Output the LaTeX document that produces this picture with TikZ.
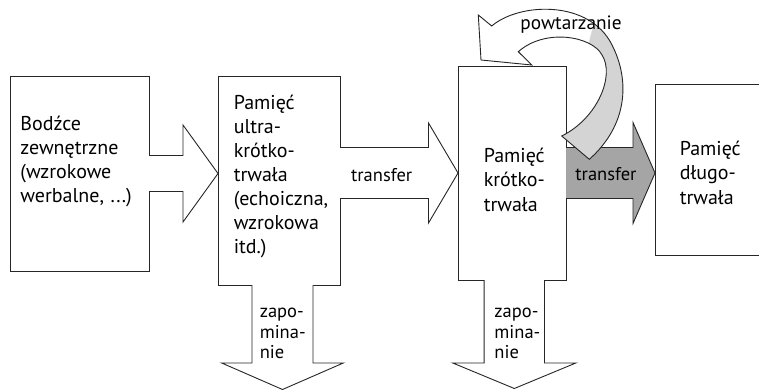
\documentclass[tikz,border=0pt]{standalone}
\usepackage{fontspec}
\setmainfont{PT Sans}
\usepackage{tikz}
\usetikzlibrary{positioning, calc}

\definecolor{szaryciemny}{RGB}{165,165,165}
\definecolor{szaryjasny}{RGB}{212,212,212}

% strzalka blokowa: styl, poczatek, grot, pol trzonu, pol grotu, dlugosc grotu
\newcommand{\strzalkaPoz}[6]{%
  \draw[#1] ($(#2)+(0,-#4)$) -- ($(#3)+(-#6,-#4)$) -- ($(#3)+(-#6,-#5)$) -- (#3)
    -- ($(#3)+(-#6,#5)$) -- ($(#3)+(-#6,#4)$) -- ($(#2)+(0,#4)$);}
\newcommand{\strzalkaPion}[6]{%
  \draw[#1] ($(#2)+(-#4,0)$) -- ($(#3)+(-#4,-#6)$) -- ($(#3)+(-#5,-#6)$) -- (#3)
    -- ($(#3)+(#5,-#6)$) -- ($(#3)+(#4,-#6)$) -- ($(#2)+(#4,0)$);}
\newcommand{\sciezkaPetli}{(491.7,26) .. controls (520,2) and (590,0) .. (612,45)
  .. controls (630,80) and (628,125) .. (589.3,159.3) -- (561.7,136)
  .. controls (598,118) and (615,75) .. (602,55) .. controls (592,36) and (545,28) .. (518.3,51.7)
  -- (531.7,65) -- (481,60) -- (478.3,15) -- cycle}

\begin{document}
\begin{tikzpicture}[x=1pt, y=-1pt, line width=0.9pt, draw=black!85,
    blok/.style={draw, rectangle, outer sep=0pt, anchor=north west},
    opis/.style={anchor=base west, inner sep=0pt, align=left, text width=130pt, font=\fontsize{20}{24}\selectfont},
    napis/.style={anchor=base west, inner sep=0pt, align=left, text width=70pt, font=\fontsize{18.5}{20.5}\selectfont}]
    \useasboundingbox (0,0) rectangle (759,390);

    \node (bodzce) [blok, minimum width=139pt, minimum height=195pt] at (10,76) {};
    \node (ultra) [blok, minimum width=122pt, minimum height=209pt] at (218,76) {};
    \node (krotko) [blok, minimum width=108pt, minimum height=214pt] at (458,66) {};
    \node (dlugo) [blok, minimum width=120pt, minimum height=171pt] at (655,84) {};

    \coordinate (koniec1) at (282.5,389.5);
    \coordinate (koniec2) at (514.3,388.5);

    % strzalki
    \strzalkaPoz{fill=white}{bodzce.east}{bodzce.east -| ultra.west}{18}{48.5}{35}
    \strzalkaPoz{fill=white}{krotko.west -| ultra.east}{krotko.west}{25.5}{50}{29.5}
    \strzalkaPoz{fill=szaryciemny}{krotko.east}{krotko.east -| dlugo.west}{25.5}{50.5}{22}
    \strzalkaPion{fill=white}{[xshift=3.5pt]ultra.south}{koniec1}{30.5}{60.8}{26.5}
    \strzalkaPion{fill=white}{[xshift=2.3pt]krotko.south}{koniec2}{30.2}{61.5}{25.5}

    % powtarzanie
    \fill[szaryjasny] \sciezkaPetli;
    \begin{scope}
        \clip \sciezkaPetli;
        \fill[white] (470,0) -- (600,0) -- (588,45) -- (545,80) -- (470,80) -- cycle;
    \end{scope}
    \draw \sciezkaPetli;

    \node (bodzceT) [opis] at ([shift={(10,54.5)}]bodzce.north west) {Bodźce\\zewnętrzne\\(wzrokowe\\werbalne, ...)};
    \node (ultraT) [opis] at ([shift={(15.3,33.3)}]ultra.north west) {Pamięć\\ultra-\\krótko-\\trwała\\(echoiczna,\\wzrokowa\\itd.)};
    \node (krotkoT) [opis] at ([shift={(25.3,97)}]krotko.north west) {Pamięć\\krótko-\\trwała};
    \node (dlugoT) [opis] at ([shift={(24.3,72)}]dlugo.north west) {Pamięć\\długo-\\trwała};

    \node (transfer1) [napis] at (350.7,181) {transfer};
    \node (transfer2) [napis] at (575,180.5) {transfer};
    \node (zapom1) [napis] at (259.3,317.5) {zapo-\\mina-\\nie};
    \node (zapom2) [napis] at (494,317.5) {zapo-\\mina-\\nie};
    \node (powt) [napis, font=\fontsize{19.3}{21}\selectfont] at (520,29.3) {powtarzanie};
\end{tikzpicture}
\end{document}
